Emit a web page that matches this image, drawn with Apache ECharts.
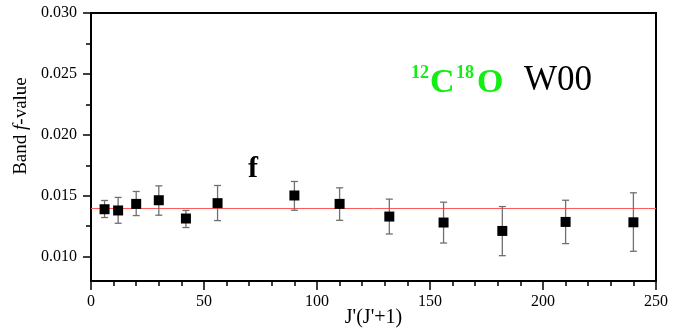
<!DOCTYPE html>
<html>
<head>
<meta charset="utf-8">
<script src="https://cdn.jsdelivr.net/npm/echarts@6/dist/echarts.min.js"></script>
<style>html,body{margin:0;padding:0;background:#fff}#c{width:694px;height:332px}</style>
</head>
<body>
<div id="c"></div>
<script>
var jj = [6, 12, 20, 30, 42, 56, 90, 110, 132, 156, 182, 210, 240];
var fValue = [0.01389, 0.01379, 0.01433, 0.01463, 0.01313, 0.01439, 0.01502, 0.01433, 0.01329, 0.01280, 0.01211, 0.01285, 0.01282];
var errHigh = [0.01461, 0.01486, 0.01535, 0.01581, 0.01379, 0.01584, 0.01617, 0.01565, 0.01472, 0.01447, 0.01411, 0.01463, 0.01524];
var errLow = [0.01321, 0.01274, 0.01337, 0.01340, 0.01239, 0.01296, 0.01381, 0.01298, 0.01186, 0.01112, 0.01008, 0.01107, 0.01044];
var meanF = 0.01395;
var xRange = [0, 250];
var yRange = [0.008, 0.030];
var yMajorTicks = [0.010, 0.015, 0.020, 0.025, 0.030];
var yMinorTicks = [0.0125, 0.0175, 0.0225, 0.0275];
var xMinorTicks = [10, 20, 30, 40, 60, 70, 80, 90, 110, 120, 130, 140, 160, 170, 180, 190, 210, 220, 230, 240];

var serif = "'Liberation Serif','Times New Roman',serif";
var chart = echarts.init(document.getElementById('c'));

var points = jj.map(function (x, i) { return [x, fValue[i]]; });
var bars = jj.map(function (x, i) { return [x, errLow[i], errHigh[i]]; });
var meanLine = xRange.map(function (x) { return [x, meanF]; });

chart.setOption({
  animation: false,
  grid: { left: 91, right: 38, top: 13, bottom: 51, outerBoundsMode: 'none', containLabel: false,
    show: true, borderColor: '#000', borderWidth: 2, backgroundColor: 'transparent' },
  xAxis: [{
    type: 'value', min: xRange[0], max: xRange[1], interval: 50,
    name: "J'(J'+1)", nameLocation: 'middle', nameGap: 27, nameMoveOverlap: false,
    nameTextStyle: { fontFamily: serif, fontSize: 20, color: '#000' },
    axisLine: { show: true, lineStyle: { color: '#000', width: 2 } },
    axisTick: { show: true, inside: false, length: 9, lineStyle: { color: '#000', width: 1.5 } },
    axisLabel: { margin: 13, fontFamily: serif, fontSize: 16, color: '#000' },
    splitLine: { show: false }
  }, {
    type: 'value', min: xRange[0], max: xRange[1], position: 'bottom',
    axisLine: { show: false },
    axisTick: { show: true, inside: false, length: 5, customValues: xMinorTicks, lineStyle: { color: '#000', width: 1.5 } },
    axisLabel: { show: false },
    splitLine: { show: false }
  }],
  yAxis: [{
    type: 'value', min: yRange[0], max: yRange[1],
    axisLine: { show: true, lineStyle: { color: '#000', width: 2 } },
    axisTick: { show: true, inside: false, length: 8, customValues: yMajorTicks, lineStyle: { color: '#000', width: 1.5 } },
    axisLabel: { show: true, customValues: yMajorTicks, margin: 14, fontFamily: serif, fontSize: 16, color: '#000',
      formatter: function (v) { return v.toFixed(3); } },
    splitLine: { show: false }
  }, {
    type: 'value', min: yRange[0], max: yRange[1], position: 'left',
    axisLine: { show: false },
    axisTick: { show: true, inside: false, length: 5, customValues: yMinorTicks, lineStyle: { color: '#000', width: 1.5 } },
    axisLabel: { show: false },
    splitLine: { show: false }
  }],
  series: [{
    type: 'line', data: meanLine, xAxisIndex: 0, yAxisIndex: 0, symbol: 'none', silent: true, z: 2,
    lineStyle: { color: '#ff5a5a', width: 1 }
  }, {
    type: 'custom', xAxisIndex: 0, yAxisIndex: 0, data: bars, z: 3,
    renderItem: function (params, api) {
      var x = api.value(0);
      var lo = api.coord([x, api.value(1)]);
      var hi = api.coord([x, api.value(2)]);
      var w = 3.5;
      var st = { stroke: '#707070', lineWidth: 1.3 };
      return { type: 'group', children: [
        { type: 'line', shape: { x1: lo[0], y1: lo[1], x2: hi[0], y2: hi[1] }, style: st },
        { type: 'line', shape: { x1: lo[0] - w, y1: lo[1], x2: lo[0] + w, y2: lo[1] }, style: st },
        { type: 'line', shape: { x1: hi[0] - w, y1: hi[1], x2: hi[0] + w, y2: hi[1] }, style: st }
      ] };
    }
  }, {
    type: 'scatter', xAxisIndex: 0, yAxisIndex: 0, data: points, z: 4,
    symbol: 'rect', symbolSize: 10, itemStyle: { color: '#000', opacity: 1 }
  }],
  graphic: [
    { type: 'text', x: 21, y: 126, rotation: Math.PI / 2,
      style: { text: '{a|Band }{i|f}{a|-value}', align: 'center', verticalAlign: 'middle',
        rich: { a: { fontFamily: serif, fontSize: 19, fill: '#000' }, i: { fontFamily: serif, fontSize: 19, fontStyle: 'italic', fill: '#000' } } } },
    { type: 'text', x: 248, y: 169, style: { text: 'f', fontFamily: serif, fontSize: 30, fontWeight: 'bold', fill: '#000', align: 'left', verticalAlign: 'middle' } },
    { type: 'text', x: 411, y: 73, style: { text: '12', fontFamily: serif, fontSize: 18, fontWeight: 'bold', fill: '#11ee11', align: 'left', verticalAlign: 'middle' } },
    { type: 'text', x: 430, y: 83, style: { text: 'C', fontFamily: serif, fontSize: 34, fontWeight: 'bold', fill: '#11ee11', align: 'left', verticalAlign: 'middle' } },
    { type: 'text', x: 456, y: 73, style: { text: '18', fontFamily: serif, fontSize: 18, fontWeight: 'bold', fill: '#11ee11', align: 'left', verticalAlign: 'middle' } },
    { type: 'text', x: 477, y: 83, style: { text: 'O', fontFamily: serif, fontSize: 34, fontWeight: 'bold', fill: '#11ee11', align: 'left', verticalAlign: 'middle' } },
    { type: 'text', x: 524, y: 81, style: { text: 'W00', fontFamily: serif, fontSize: 35, fill: '#000', align: 'left', verticalAlign: 'middle' } }
  ]
});
</script>
</body>
</html>
